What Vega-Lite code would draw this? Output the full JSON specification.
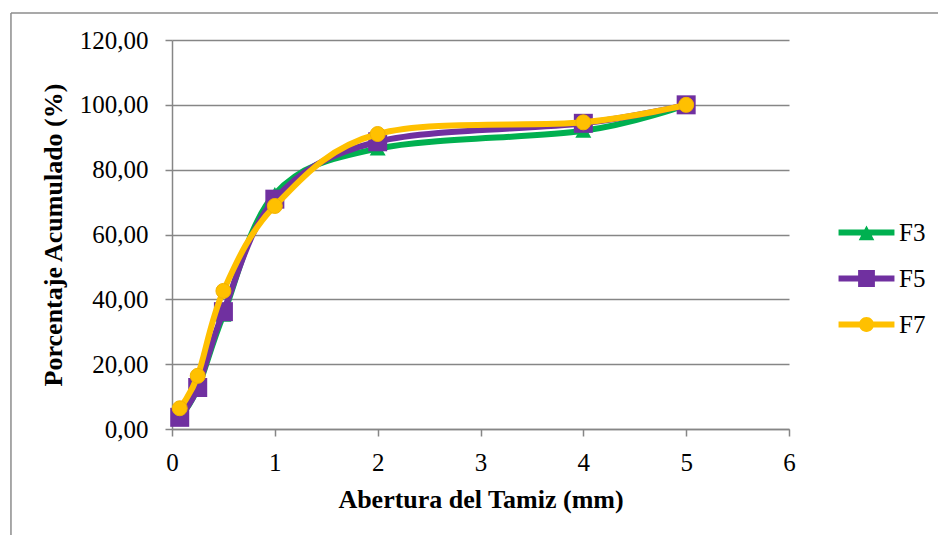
{
  "$schema": "https://vega.github.io/schema/vega-lite/v6.json",
  "width": 617,
  "height": 389,
  "autosize": {"type": "none"},
  "padding": {"left": 172, "top": 40, "right": 149, "bottom": 106},
  "background": "white",
  "config": {
    "view": {"stroke": null},
    "font": "Liberation Serif",
    "axis": {
      "labelFont": "Liberation Serif",
      "labelFontSize": 25,
      "labelColor": "#000000",
      "labelFlush": false,
      "titleFont": "Liberation Serif",
      "titleFontSize": 26,
      "titleFontWeight": "bold",
      "titleColor": "#000000",
      "domainColor": "#868686",
      "domainWidth": 1.5,
      "tickColor": "#868686",
      "tickWidth": 1.5,
      "tickSize": 7,
      "gridColor": "#868686",
      "gridWidth": 1.5
    }
  },
  "datasets": {
    "granulometria": [
      {"serie": "F3", "abertura": 0.075, "porcentaje": 3.6},
      {"serie": "F3", "abertura": 0.25, "porcentaje": 12.6},
      {"serie": "F3", "abertura": 0.5, "porcentaje": 35.2},
      {"serie": "F3", "abertura": 1, "porcentaje": 72.5},
      {"serie": "F3", "abertura": 2, "porcentaje": 86.5},
      {"serie": "F3", "abertura": 4, "porcentaje": 92.0},
      {"serie": "F3", "abertura": 5, "porcentaje": 100.0},
      {"serie": "F5", "abertura": 0.075, "porcentaje": 3.6},
      {"serie": "F5", "abertura": 0.25, "porcentaje": 12.8},
      {"serie": "F5", "abertura": 0.5, "porcentaje": 36.2},
      {"serie": "F5", "abertura": 1, "porcentaje": 70.9},
      {"serie": "F5", "abertura": 2, "porcentaje": 88.6},
      {"serie": "F5", "abertura": 4, "porcentaje": 94.3},
      {"serie": "F5", "abertura": 5, "porcentaje": 100.0},
      {"serie": "F7", "abertura": 0.075, "porcentaje": 6.4},
      {"serie": "F7", "abertura": 0.25, "porcentaje": 16.4},
      {"serie": "F7", "abertura": 0.5, "porcentaje": 42.6},
      {"serie": "F7", "abertura": 1, "porcentaje": 68.8},
      {"serie": "F7", "abertura": 2, "porcentaje": 91.0},
      {"serie": "F7", "abertura": 4, "porcentaje": 94.6},
      {"serie": "F7", "abertura": 5, "porcentaje": 100.0}
    ],
    "marco": [{"borde": "marco"}]
  },
  "layer": [
    {
      "data": {"name": "granulometria"},
      "encoding": {
        "x": {
          "field": "abertura",
          "type": "quantitative",
          "scale": {"domain": [0, 6], "nice": false, "zero": false},
          "axis": {
            "values": [0, 1, 2, 3, 4, 5, 6],
            "grid": false,
            "labelPadding": 14,
            "titlePadding": 11,
            "title": "Abertura del Tamiz (mm)"
          }
        },
        "y": {
          "field": "porcentaje",
          "type": "quantitative",
          "scale": {"domain": [0, 120], "nice": false},
          "axis": {
            "values": [0, 20, 40, 60, 80, 100, 120],
            "grid": true,
            "labelPadding": 17,
            "titlePadding": 13,
            "labelExpr": "replace(format(datum.value, '.2f'), '.', ',')",
            "title": "Porcentaje Acumulado (%)"
          }
        }
      },
      "layer": [
        {
          "transform": [{"filter": "datum.serie === 'F3'"}],
          "mark": {"type": "line", "interpolate": "cardinal", "color": "#00B050", "strokeWidth": 6, "strokeCap": "round"},
          "encoding": {}
        },
        {
          "transform": [{"filter": "datum.serie === 'F3'"}],
          "mark": {"type": "point", "shape": "triangle-up", "filled": true, "opacity": 1, "color": "#00B050", "size": 256},
          "encoding": {}
        },
        {
          "transform": [{"filter": "datum.serie === 'F5'"}],
          "mark": {"type": "line", "interpolate": "cardinal", "color": "#7030A0", "strokeWidth": 6, "strokeCap": "round"},
          "encoding": {}
        },
        {
          "transform": [{"filter": "datum.serie === 'F5'"}],
          "mark": {"type": "point", "shape": "square", "filled": true, "opacity": 1, "color": "#7030A0", "size": 361},
          "encoding": {}
        },
        {
          "transform": [{"filter": "datum.serie === 'F7'"}],
          "mark": {"type": "line", "interpolate": "cardinal", "color": "#FFC000", "strokeWidth": 6, "strokeCap": "round"},
          "encoding": {}
        },
        {
          "transform": [{"filter": "datum.serie === 'F7'"}],
          "mark": {"type": "point", "shape": "circle", "filled": true, "opacity": 1, "color": "#FFC000", "stroke": "#F2B300", "strokeWidth": 1, "size": 225},
          "encoding": {}
        },
        {
          "mark": {"type": "point", "filled": true, "opacity": 0},
          "encoding": {
            "color": {
              "field": "serie",
              "type": "nominal",
              "scale": {"domain": ["F3", "F5", "F7"], "range": ["#00B050", "#7030A0", "#FFC000"]},
              "legend": {
                "title": null,
                "orient": "none",
                "legendX": 682,
                "legendY": 180,
                "padding": 0,
                "symbolSize": 576,
                "symbolStrokeWidth": 0,
                "symbolOpacity": 1,
                "labelFont": "Liberation Serif",
                "labelFontSize": 25,
                "labelColor": "#000000",
                "labelOffset": 20,
                "labelBaseline": "middle",
                "rowPadding": 20
              }
            },
            "shape": {
              "field": "serie",
              "type": "nominal",
              "scale": {
                "domain": ["F3", "F5", "F7"],
                "range": [
                  "M-2.33,-0.25H2.33V0.25H-2.33Z M0,-0.58L0.65,0.65H-0.65Z",
                  "M-2.33,-0.25H2.33V0.25H-2.33Z M-0.7,-0.7H0.7V0.7H-0.7Z",
                  "M-2.33,-0.25H2.33V0.25H-2.33Z M-0.62,0A0.62,0.62 0 1,1 0.62,0A0.62,0.62 0 1,1 -0.62,0Z"
                ]
              },
              "legend": {
                "title": null,
                "orient": "none",
                "legendX": 682,
                "legendY": 180,
                "padding": 0,
                "symbolSize": 576,
                "symbolStrokeWidth": 0,
                "symbolOpacity": 1,
                "labelFont": "Liberation Serif",
                "labelFontSize": 25,
                "labelColor": "#000000",
                "labelOffset": 20,
                "labelBaseline": "middle",
                "rowPadding": 20
              }
            }
          }
        }
      ]
    },
    {
      "data": {"name": "marco"},
      "mark": {"type": "rule", "stroke": "#8c8c8c", "strokeWidth": 1.5, "clip": false},
      "encoding": {
        "x": {
          "datum": -1.566,
          "type": "quantitative",
          "scale": {"domain": [0, 6], "nice": false, "zero": false},
          "axis": {
            "values": [0, 1, 2, 3, 4, 5, 6],
            "grid": false,
            "labelPadding": 14,
            "titlePadding": 11,
            "title": "Abertura del Tamiz (mm)"
          }
        },
        "x2": {"datum": 8},
        "y": {
          "datum": 128.33,
          "type": "quantitative",
          "scale": {"domain": [0, 120], "nice": false},
          "axis": {
            "values": [0, 20, 40, 60, 80, 100, 120],
            "grid": true,
            "labelPadding": 17,
            "titlePadding": 13,
            "labelExpr": "replace(format(datum.value, '.2f'), '.', ',')",
            "title": "Porcentaje Acumulado (%)"
          }
        }
      }
    },
    {
      "data": {"name": "marco"},
      "mark": {"type": "rule", "stroke": "#8c8c8c", "strokeWidth": 1.5, "clip": false},
      "encoding": {
        "x": {
          "datum": -1.566,
          "type": "quantitative",
          "axis": {
            "values": [0, 1, 2, 3, 4, 5, 6],
            "grid": false,
            "labelPadding": 14,
            "titlePadding": 11,
            "title": "Abertura del Tamiz (mm)"
          }
        },
        "y": {
          "datum": 128.33,
          "type": "quantitative",
          "axis": {
            "values": [0, 20, 40, 60, 80, 100, 120],
            "grid": true,
            "labelPadding": 17,
            "titlePadding": 13,
            "labelExpr": "replace(format(datum.value, '.2f'), '.', ',')",
            "title": "Porcentaje Acumulado (%)"
          }
        },
        "y2": {"datum": -40}
      }
    }
  ]
}
